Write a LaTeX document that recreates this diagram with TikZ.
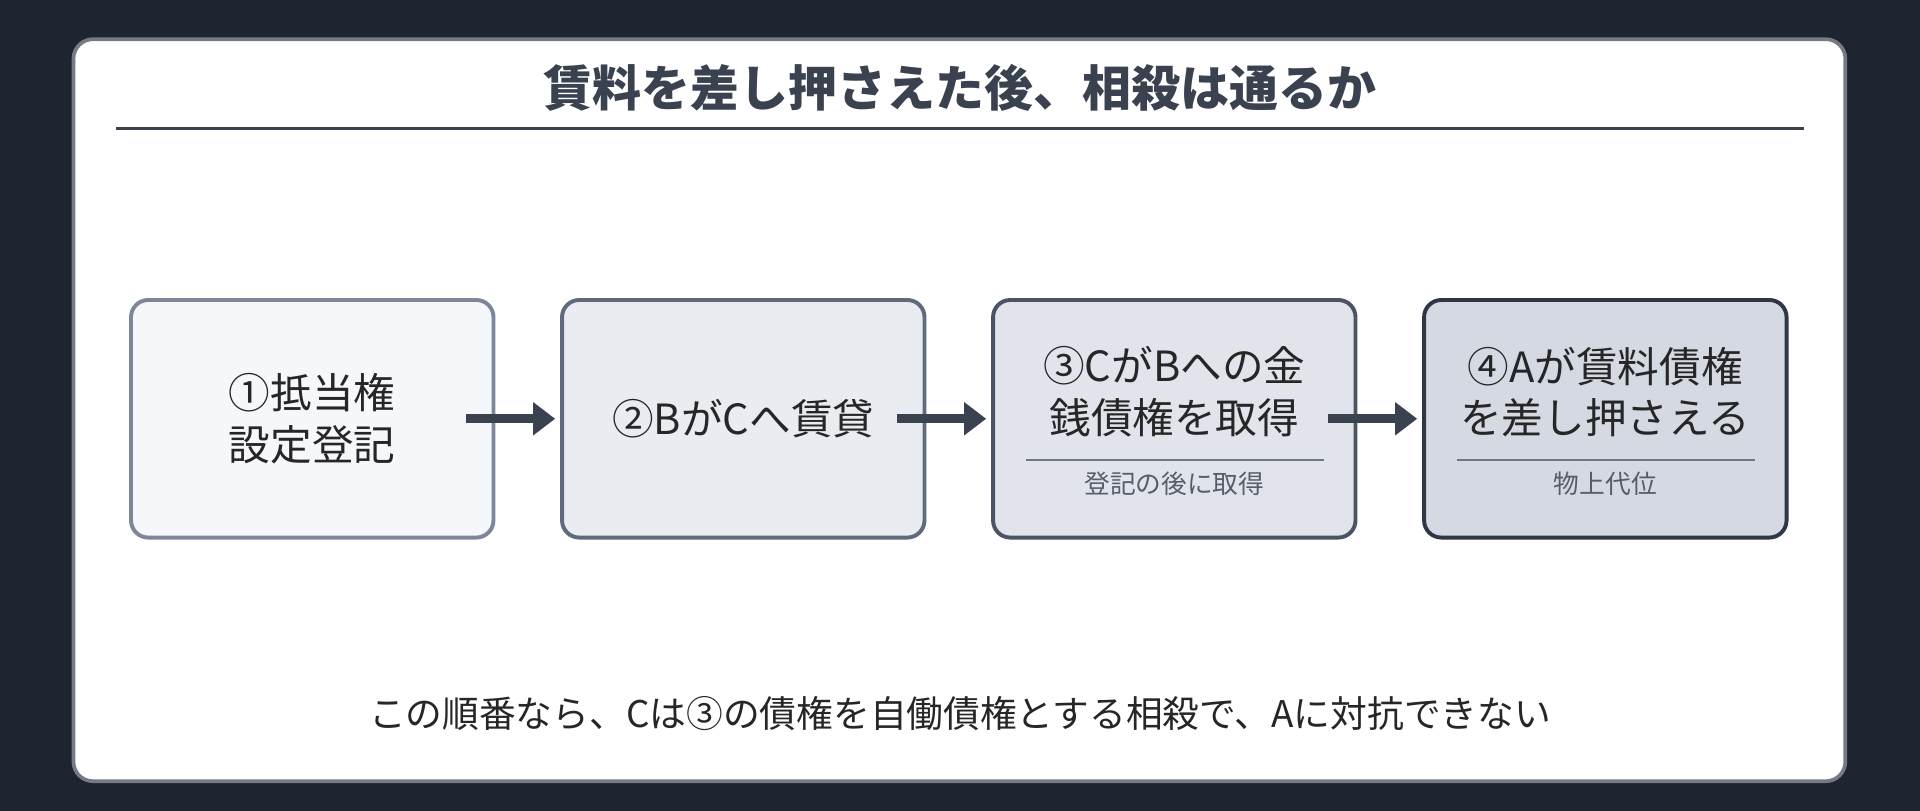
\documentclass[tikz,border=0pt]{standalone}
\usepackage{fontspec}
\setmainfont{Noto Sans CJK JP}
\usetikzlibrary{arrows.meta}
\definecolor{bg}{HTML}{1E2530}
\definecolor{ink}{HTML}{3A4250}
\definecolor{fa}{HTML}{F5F7FA}\definecolor{ba}{HTML}{7D8799}
\definecolor{fb}{HTML}{E9EDF1}\definecolor{bb}{HTML}{5F6B7C}
\definecolor{fc}{HTML}{E1E5EB}\definecolor{bc}{HTML}{4A5464}
\definecolor{fd}{HTML}{D5DAE2}\definecolor{bd}{HTML}{2F3746}
\begin{document}
\begin{tikzpicture}[x=0.5pt,y=-0.5pt,
 box/.style={draw,line width=1.6pt,rounded corners=7pt,minimum width=148pt,minimum height=97pt,anchor=center},
 main/.style={font=\fontsize{17}{21}\selectfont,text=black!85,align=center},
 sub/.style={font=\fontsize{10.5}{12}\selectfont,text=ink!85},
 arr/.style={-{Triangle[length=9pt,width=13pt]},line width=3.5pt,draw=ink}]
\fill[bg] (0,0) rectangle (1568,662);
\useasboundingbox (0,0) rectangle (1568,662);
\node[draw=ink!70,line width=1.5pt,fill=white,rounded corners=8pt,minimum width=723.5pt,minimum height=303pt] (card) at (783.5,335) {};
\node[font=\bfseries\fontsize{20}{24}\selectfont,text=ink] (title) at (784,72) {賃料を差し押さえた後、相殺は通るか};
\coordinate (l1) at (95,105); \coordinate (l2) at (1473,105);
\draw[ink,line width=1pt] (l1) -- (l2);
\node[box,fill=fa,draw=ba] (b1) at (255,342) {};
\node[box,fill=fb,draw=bb] (b2) at (607,342) {};
\node[box,fill=fc,draw=bc] (b3) at (959,342) {};
\node[box,fill=fd,draw=bd] (b4) at (1311,342) {};
\node[main] (t1) at (255,342) {①抵当権\\設定登記};
\node[main] (t2) at (607,342) {②BがCへ賃貸};
\node[main] (t3) at (959,320) {③CがBへの金\\銭債権を取得};
\node[main] (t4) at (1311,320) {④Aが賃料債権\\を差し押さえる};
\coordinate (s3a) at (838,376); \coordinate (s3b) at (1081,376);
\coordinate (s4a) at (1190,376); \coordinate (s4b) at (1433,376);
\draw[bc!80,line width=0.8pt] (s3a) -- (s3b);
\draw[bc!80,line width=0.8pt] (s4a) -- (s4b);
\node[sub] (u3) at (959,395) {登記の後に取得};
\node[sub] (u4) at (1311,395) {物上代位};
\draw[arr] ([xshift=-12pt]b1.east) -- ([xshift=-2pt]b2.west);
\draw[arr] ([xshift=-12pt]b2.east) -- ([xshift=-2pt]b3.west);
\draw[arr] ([xshift=-12pt]b3.east) -- ([xshift=-2pt]b4.west);
\node[font=\fontsize{15}{18}\selectfont,text=black!85] (foot) at (784,583) {この順番なら、Cは③の債権を自働債権とする相殺で、Aに対抗できない};
\end{tikzpicture}
\end{document}
